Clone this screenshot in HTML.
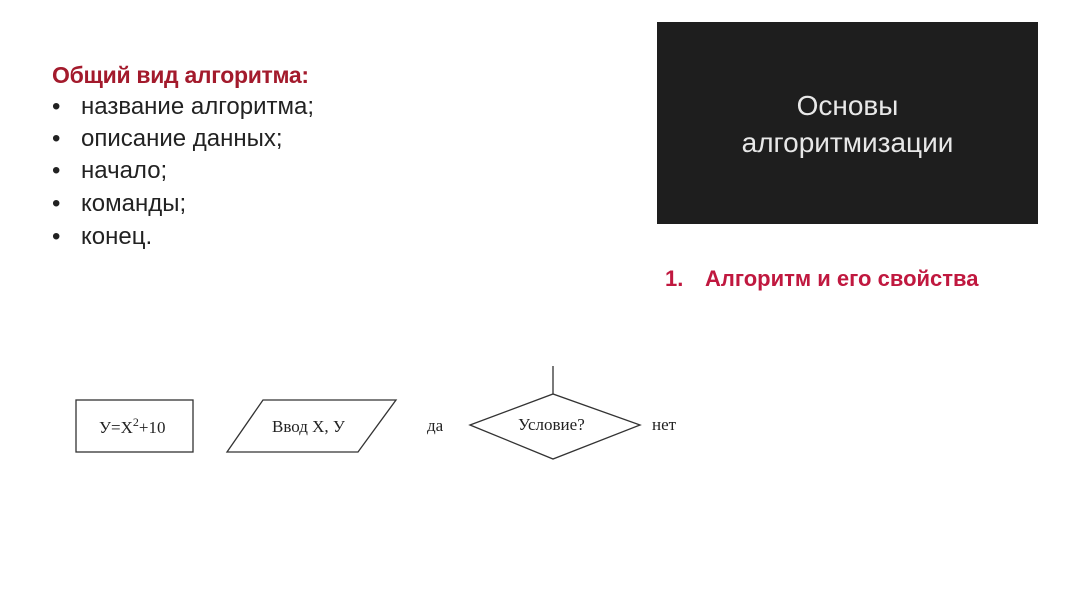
<!DOCTYPE html>
<html><head><meta charset="utf-8"><style>
body{margin:0;width:1067px;height:600px;background:#fff;position:relative;overflow:hidden;font-family:"Liberation Sans","DejaVu Sans",sans-serif}
.t{position:absolute;white-space:nowrap}
.li{font-size:24px;color:#222}
.li span{position:absolute;left:0}
</style></head><body>
<div class="t" style="left:52px;top:62px;font-size:23px;color:#a31a2c;font-weight:bold;letter-spacing:-0.3px">Общий вид алгоритма:</div>
<div class="t li" style="left:52px;top:93px"><span>•</span><b style="font-weight:normal;margin-left:29px">название алгоритма;</b></div>
<div class="t li" style="left:52px;top:125px"><span>•</span><b style="font-weight:normal;margin-left:29px">описание данных;</b></div>
<div class="t li" style="left:52px;top:157px"><span>•</span><b style="font-weight:normal;margin-left:29px">начало;</b></div>
<div class="t li" style="left:52px;top:190px"><span>•</span><b style="font-weight:normal;margin-left:29px">команды;</b></div>
<div class="t li" style="left:52px;top:223px"><span>•</span><b style="font-weight:normal;margin-left:29px">конец.</b></div>
<div style="position:absolute;left:657px;top:22px;width:381px;height:202px;background:#1e1e1e;color:#e8e8e8;font-size:28px;text-align:center;line-height:37px">
<div style="padding-top:65px">Основы<br>алгоритмизации</div></div>
<div class="t" style="left:665px;top:266px;font-size:22px;color:#c0183f;font-weight:bold">1.<span style="position:absolute;left:40px">Алгоритм и его свойства</span></div>
<svg width="1067" height="600" style="position:absolute;left:0;top:0" font-family="Liberation Serif,serif" font-size="17" fill="#222">
<g fill="none" stroke="#333" stroke-width="1.3">
<rect x="76" y="400" width="117" height="52"/>
<polygon points="227,452 263,400 396,400 358,452"/>
<polygon points="470,425 553,394 640,425 553,459"/>
<line x1="553" y1="366" x2="553" y2="394"/>
</g>
<text x="99" y="433">У=X<tspan dy="-7" font-size="12">2</tspan><tspan dy="7">+10</tspan></text>
<text x="272" y="432">Ввод X, У</text>
<text x="427" y="431">да</text>
<text x="518" y="430">Условие?</text>
<text x="652" y="430">нет</text>
</svg>
</body></html>
